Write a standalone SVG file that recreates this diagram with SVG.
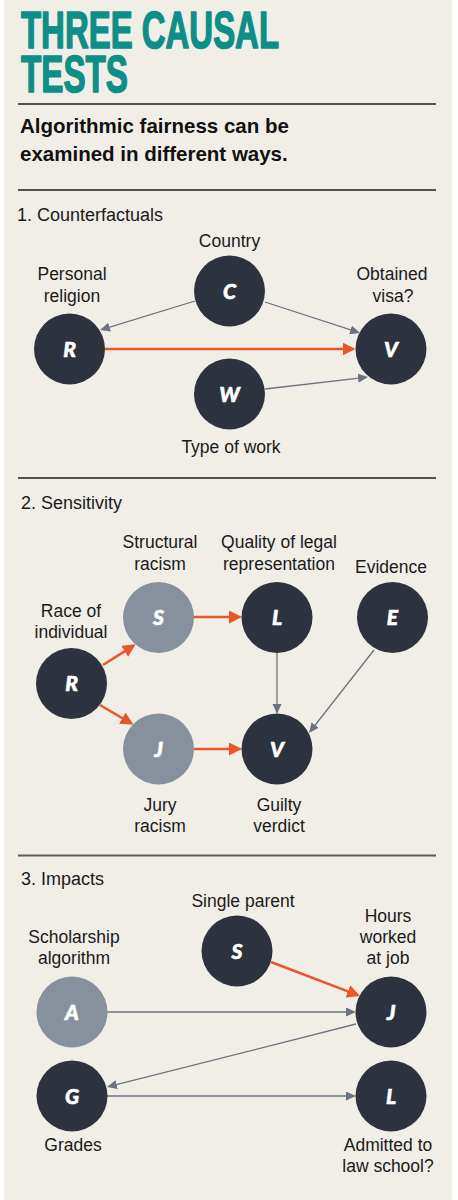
<svg xmlns="http://www.w3.org/2000/svg" width="458" height="1200" viewBox="0 0 458 1200">
<style>
.bg{fill:#f1eee8}
.rule{stroke:#1e1e1e;stroke-width:1.3}
.title{font-family:"Liberation Sans",Arial,sans-serif;font-weight:bold;font-size:51px;fill:#0d8f87;stroke:#0d8f87;stroke-width:1.6;stroke-linejoin:round}
.sub{font-family:"Liberation Sans",Arial,sans-serif;font-weight:bold;font-size:20.5px;fill:#111}
.head{font-family:"Liberation Sans",Arial,sans-serif;font-size:18px;fill:#1a1a1a}
.lbl{font-family:"Liberation Sans",Arial,sans-serif;font-size:17.5px;fill:#1a1a1a;text-anchor:middle}
.dark{fill:#2c333e}
.grey{fill:#87919d}
.let{font-family:Lato,"Liberation Sans",sans-serif;font-weight:900;font-style:italic;font-size:21px;fill:#ffffff;stroke:#ffffff;stroke-width:0.6;text-anchor:middle}
.ge{stroke:#6b7380;stroke-width:1.3;fill:none;marker-end:url(#ga)}
.oe{stroke:#e8572a;stroke-width:2.6;fill:none;marker-end:url(#oa)}
</style>
<defs>
<marker id="oa" markerUnits="userSpaceOnUse" markerWidth="14" markerHeight="14" refX="10.5" refY="6.5" orient="auto"><path d="M0,0 L13,6.5 L0,13 z" fill="#e8572a"/></marker>
<marker id="ga" markerUnits="userSpaceOnUse" markerWidth="11" markerHeight="10" refX="7.5" refY="4.5" orient="auto"><path d="M0,0 L10,4.5 L0,9 z" fill="#6b7380"/></marker>
</defs>
<rect x="0" y="0" width="458" height="1200" fill="#ffffff"/>
<rect class="bg" x="4" y="0" width="448" height="1200"/>
<g id="header">
<text class="title"><tspan x="21" y="47.5" textLength="258" lengthAdjust="spacingAndGlyphs">THREE CAUSAL</tspan><tspan x="21" y="91.5" textLength="107" lengthAdjust="spacingAndGlyphs">TESTS</tspan></text>
<line class="rule" x1="18" y1="104" x2="436" y2="104"/>
<text class="sub" x="20" y="133">Algorithmic fairness can be</text>
<text class="sub" x="20" y="161">examined in different ways.</text>
<line class="rule" x1="18" y1="190" x2="436" y2="190"/>
<text class="head" x="17" y="221">1. Counterfactuals</text>
<line class="rule" x1="18" y1="478" x2="436" y2="478"/>
<text class="head" x="21" y="509">2. Sensitivity</text>
<line x1="18" y1="855.5" x2="436" y2="855.5" stroke="#5f5d58" stroke-width="2"/>
<text class="head" x="21" y="885">3. Impacts</text>
</g>
<g id="connectors">
<line class="ge" x1="195" y1="301" x2="102.4" y2="329.3"/>
<line class="ge" x1="265" y1="302" x2="357.6" y2="332.2"/>
<line class="oe" x1="105" y1="349" x2="353" y2="349"/>
<line class="ge" x1="265" y1="389" x2="365.5" y2="377.3"/>
<line class="oe" x1="103" y1="665" x2="133.5" y2="645.6"/>
<line class="oe" x1="100" y1="705" x2="131.4" y2="723.5"/>
<line class="oe" x1="194" y1="617" x2="239.5" y2="617"/>
<line class="oe" x1="194" y1="749" x2="239.5" y2="749"/>
<line class="ge" x1="277" y1="653" x2="277" y2="711.5"/>
<line class="ge" x1="374" y1="650" x2="310.5" y2="731"/>
<line class="oe" x1="271" y1="962" x2="357.7" y2="995.1"/>
<line class="ge" x1="107" y1="1012" x2="353.5" y2="1012"/>
<line class="ge" x1="356" y1="1024" x2="109.4" y2="1086.4"/>
<line class="ge" x1="107" y1="1096" x2="353.5" y2="1096"/>
</g>
<g id="n1-R"><circle class="dark" cx="69.5" cy="349" r="35.5"/><text class="let" x="69.5" y="356.5">R</text><text class="lbl" x="72" y="280">Personal</text><text class="lbl" x="72" y="302">religion</text></g>
<g id="n1-C"><circle class="dark" cx="229.5" cy="291" r="35.5"/><text class="let" x="229.5" y="298.5">C</text><text class="lbl" x="229.5" y="247">Country</text></g>
<g id="n1-V"><circle class="dark" cx="391" cy="349" r="35.5"/><text class="let" x="391" y="356.5">V</text><text class="lbl" x="392" y="280">Obtained</text><text class="lbl" x="393" y="302">visa?</text></g>
<g id="n1-W"><circle class="dark" cx="229.5" cy="394" r="35.5"/><text class="let" x="229.5" y="401.5">W</text><text class="lbl" x="231" y="453">Type of work</text></g>
<g id="n2-S"><circle class="grey" cx="158.5" cy="617.5" r="35.5"/><text class="let" x="158.5" y="625">S</text><text class="lbl" x="160" y="548">Structural</text><text class="lbl" x="160" y="570">racism</text></g>
<g id="n2-L"><circle class="dark" cx="277" cy="617.5" r="35.5"/><text class="let" x="277" y="625">L</text><text class="lbl" x="279" y="548">Quality of legal</text><text class="lbl" x="279" y="570">representation</text></g>
<g id="n2-E"><circle class="dark" cx="392.5" cy="617.5" r="35.5"/><text class="let" x="392.5" y="625">E</text><text class="lbl" x="391" y="573">Evidence</text></g>
<g id="n2-R"><circle class="dark" cx="71.5" cy="683.5" r="35.5"/><text class="let" x="71.5" y="691">R</text><text class="lbl" x="71" y="617">Race of</text><text class="lbl" x="71" y="638">individual</text></g>
<g id="n2-J"><circle class="grey" cx="158.5" cy="749" r="35.5"/><text class="let" x="158.5" y="756.5">J</text><text class="lbl" x="160" y="811">Jury</text><text class="lbl" x="160" y="832">racism</text></g>
<g id="n2-V"><circle class="dark" cx="277" cy="749" r="35.5"/><text class="let" x="277" y="756.5">V</text><text class="lbl" x="279" y="811">Guilty</text><text class="lbl" x="279" y="832">verdict</text></g>
<g id="n3-S"><circle class="dark" cx="237" cy="951" r="35.5"/><text class="let" x="237" y="958.5">S</text><text class="lbl" x="243" y="907">Single parent</text></g>
<g id="n3-A"><circle class="grey" cx="72" cy="1012" r="35.5"/><text class="let" x="72" y="1019.5">A</text><text class="lbl" x="74" y="943">Scholarship</text><text class="lbl" x="74" y="964">algorithm</text></g>
<g id="n3-J"><circle class="dark" cx="391" cy="1012" r="35.5"/><text class="let" x="391" y="1019.5">J</text><text class="lbl" x="388" y="922">Hours</text><text class="lbl" x="388" y="943">worked</text><text class="lbl" x="388" y="964">at job</text></g>
<g id="n3-G"><circle class="dark" cx="72" cy="1096" r="35.5"/><text class="let" x="72" y="1103.5">G</text><text class="lbl" x="73" y="1151">Grades</text></g>
<g id="n3-L"><circle class="dark" cx="391" cy="1096" r="35.5"/><text class="let" x="391" y="1103.5">L</text><text class="lbl" x="388" y="1151">Admitted to</text><text class="lbl" x="388" y="1172">law school?</text></g>
</svg>
